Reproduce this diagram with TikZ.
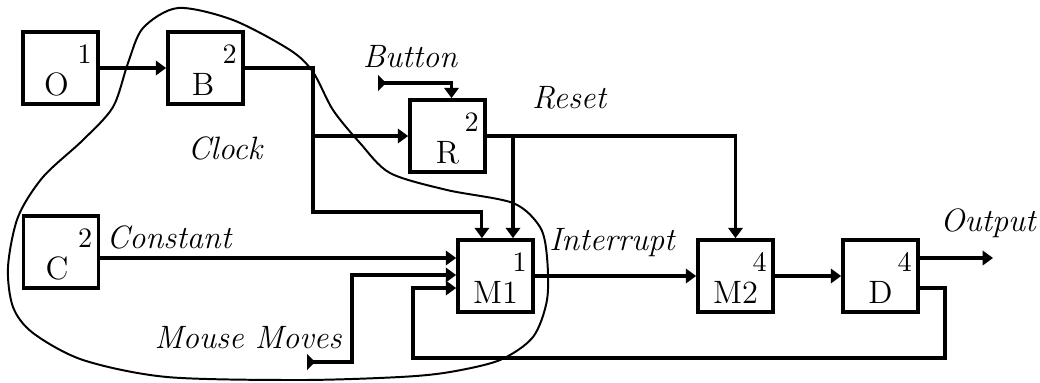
\documentclass[tikz,border=0pt]{standalone}
\usepackage{tikz}
\usetikzlibrary{arrows.meta,calc}

\begin{document}
\begin{tikzpicture}[x=0.0125cm,y=-0.0125cm,
   every node/.style={font=\fontsize{11.5}{14}\selectfont\itshape},
   blk/.style={draw,rectangle,line width=1.3pt,minimum width=0.9375cm,
               minimum height=0.9cm,inner sep=0pt},
   ltr/.style={anchor=center,yshift=-0.21cm,font=\fontsize{11.5}{14}\selectfont\upshape},
   num/.style={anchor=center,xshift=-0.19cm,yshift=-0.3cm,
               font=\fontsize{10}{12}\selectfont\upshape},
   wire/.style={line width=1.1pt},
   arr/.style={wire,-{Triangle[length=1.3mm,width=1.8mm]}},
   stub/.style={wire,{Triangle[reversed,length=1mm,width=2mm]}-{Triangle[length=1.3mm,width=1.8mm]}},
   blob/.style={line width=0.7pt}
]
\useasboundingbox (0,0) rectangle (1040,382);

% Blocks
\node[blk,label={[ltr,xshift=-0.05cm]center:O},label={[num]north east:1}] (O) at (60.5,68) {};
\node[blk,label={[ltr,xshift=-0.03cm]center:B},label={[num]north east:2}] (B) at (205.5,68) {};
\node[blk,label={[ltr]center:R},label={[num]north east:2}] (R) at (447.5,136) {};
\node[blk,label={[ltr,xshift=-0.05cm]center:C},label={[num]north east:2}] (C) at (61,252) {};
\node[blk,label={[ltr]center:M1},label={[num]north east:1}] (M1) at (495.5,276) {};
\node[blk,label={[ltr]center:M2},label={[num]north east:4}] (M2) at (735.5,276) {};
\node[blk,label={[ltr]center:D},label={[num]north east:4}] (D) at (880.5,276) {};

% Inputs of M1
\coordinate (in1) at ($(M1.west)+(0,-18)$);
\coordinate (in2) at ($(M1.west)+(0,-1)$);
\coordinate (in3) at ($(M1.west)+(0,12)$);

% Clock
\draw[arr] (O.east) -- (B.west);
\coordinate (clk) at (313,212);
\draw[arr] (B.east) -| (clk) -| ([xshift=-0.17cm]M1.north);
\draw[arr] (clk |- R.west) -- (R.west);

% Button
\coordinate (btn) at (378,83);
\draw[stub] (btn) -| ([xshift=0.05cm]R.north);

% Reset
\coordinate (rj) at (513,0);
\draw[arr] (R.east) -| (M2.north);
\draw[arr] (rj |- R.east) -- (rj |- M1.north);

% Constant
\draw[arr] (C.east |- in1) -- (in1);

% Mouse moves
\coordinate (mm) at (307,362);
\coordinate (mmb) at (352,362);
\draw[stub] (mm) -- (mmb) |- (in2);

% Feedback from D
\coordinate (fb1) at (945,358);
\coordinate (fb2) at (413,358);
\draw[arr] ($(D.east)+(0,12)$) -| (fb1) -- (fb2) |- (in3);

% Interrupt and output
\draw[arr] (M1.east) -- (M2.west);
\draw[arr] (M2.east) -- (D.west);
\coordinate (out) at (993,258);
\draw[arr] (D.east |- out) -- (out);

% Labels
\node (button) at (410,57) {Button};
\node (reset) at (569,98) {Reset};
\node (clock) at (225,148) {Clock};
\node (const) at (169,237) {Constant};
\node (intr) at (612,243) {Interrupt};
\node (mouse) at (248,338) {Mouse Moves};
\node (output) at (988,223) {Output};

% Outline round the input part
\draw[blob] plot[smooth cycle] coordinates {
  (178,8) (233,20) (290,50) (313,72) (333,110) (360,143) (390,173)
  (447,190) (513,203) (540,227) (547,257) (547,300) (533,337) (500,360)
  (450,372) (400,377) (300,380) (167,377) (83,360) (33,333) (13,307)
  (8,267) (18,217) (43,177) (83,140) (113,107) (128,63) (143,28)};
\end{tikzpicture}
\end{document}
